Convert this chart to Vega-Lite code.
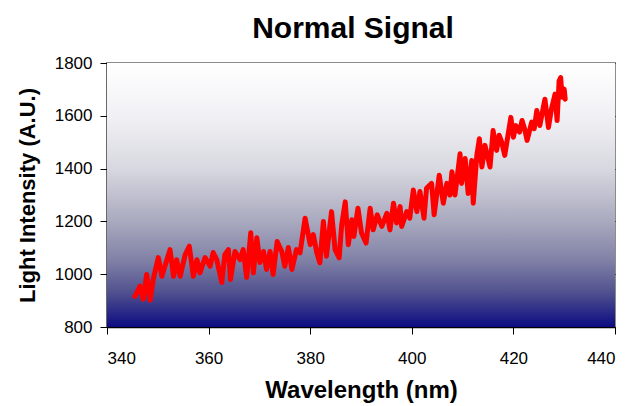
{
  "$schema": "https://vega.github.io/schema/vega-lite/v6.json",
  "autosize": {"type": "none"},
  "width": 508,
  "height": 264,
  "padding": {"left": 107, "top": 63, "right": 19, "bottom": 79},
  "background": "white",
  "config": {
    "font": "Liberation Sans",
    "view": {"stroke": "#8c8c8c", "strokeWidth": 2}
  },
  "title": {
    "text": "Normal Signal",
    "fontSize": 30,
    "fontWeight": "bold",
    "font": "Liberation Sans",
    "color": "black",
    "anchor": "middle",
    "dx": -8,
    "offset": 10
  },
  "data": {
    "values": [
      {"wavelength": 345.5, "intensity": 916},
      {"wavelength": 346.5, "intensity": 955},
      {"wavelength": 347.15, "intensity": 905},
      {"wavelength": 347.8, "intensity": 999},
      {"wavelength": 348.5, "intensity": 902},
      {"wavelength": 349.1, "intensity": 980},
      {"wavelength": 350.1, "intensity": 1063},
      {"wavelength": 350.8, "intensity": 992},
      {"wavelength": 351.4, "intensity": 1030},
      {"wavelength": 352.4, "intensity": 1093},
      {"wavelength": 353.1, "intensity": 992},
      {"wavelength": 353.7, "intensity": 1055},
      {"wavelength": 354.4, "intensity": 992},
      {"wavelength": 355.4, "intensity": 1074},
      {"wavelength": 356.2, "intensity": 1106},
      {"wavelength": 357.0, "intensity": 992},
      {"wavelength": 357.7, "intensity": 1055},
      {"wavelength": 358.3, "intensity": 1005},
      {"wavelength": 359.3, "intensity": 1063},
      {"wavelength": 360.3, "intensity": 1030},
      {"wavelength": 360.9, "intensity": 1082},
      {"wavelength": 361.6, "intensity": 1055},
      {"wavelength": 362.6, "intensity": 969},
      {"wavelength": 363.2, "intensity": 1074},
      {"wavelength": 363.9, "intensity": 1093},
      {"wavelength": 364.3, "intensity": 980},
      {"wavelength": 365.2, "intensity": 1086},
      {"wavelength": 366.2, "intensity": 1055},
      {"wavelength": 366.8, "intensity": 1093},
      {"wavelength": 367.5, "intensity": 988},
      {"wavelength": 368.3, "intensity": 1157},
      {"wavelength": 368.8, "intensity": 1005},
      {"wavelength": 369.5, "intensity": 1138},
      {"wavelength": 370.1, "intensity": 1044},
      {"wavelength": 370.8, "intensity": 1086},
      {"wavelength": 371.4, "intensity": 1018},
      {"wavelength": 372.1, "intensity": 1086},
      {"wavelength": 372.7, "intensity": 999},
      {"wavelength": 373.5, "intensity": 1124},
      {"wavelength": 374.4, "intensity": 1086},
      {"wavelength": 375.0, "intensity": 1030},
      {"wavelength": 375.7, "intensity": 1101},
      {"wavelength": 376.4, "intensity": 1018},
      {"wavelength": 377.3, "intensity": 1093},
      {"wavelength": 378.0, "intensity": 1081},
      {"wavelength": 379.0, "intensity": 1212},
      {"wavelength": 380.0, "intensity": 1112},
      {"wavelength": 380.6, "intensity": 1150},
      {"wavelength": 381.3, "intensity": 1081},
      {"wavelength": 381.9, "intensity": 1043},
      {"wavelength": 382.6, "intensity": 1200},
      {"wavelength": 383.2, "intensity": 1068},
      {"wavelength": 384.2, "intensity": 1237},
      {"wavelength": 384.9, "intensity": 1093},
      {"wavelength": 385.7, "intensity": 1062},
      {"wavelength": 386.2, "intensity": 1187},
      {"wavelength": 386.9, "intensity": 1274},
      {"wavelength": 387.5, "intensity": 1112},
      {"wavelength": 388.2, "intensity": 1206},
      {"wavelength": 388.6, "intensity": 1143},
      {"wavelength": 389.4, "intensity": 1250},
      {"wavelength": 390.1, "intensity": 1156},
      {"wavelength": 391.0, "intensity": 1118},
      {"wavelength": 391.8, "intensity": 1250},
      {"wavelength": 392.4, "intensity": 1168},
      {"wavelength": 393.2, "intensity": 1225},
      {"wavelength": 394.1, "intensity": 1181},
      {"wavelength": 395.1, "intensity": 1231},
      {"wavelength": 395.7, "intensity": 1168},
      {"wavelength": 396.4, "intensity": 1269},
      {"wavelength": 397.0, "intensity": 1194},
      {"wavelength": 397.7, "intensity": 1256},
      {"wavelength": 398.0, "intensity": 1181},
      {"wavelength": 399.0, "intensity": 1237},
      {"wavelength": 399.6, "intensity": 1212},
      {"wavelength": 400.3, "intensity": 1319},
      {"wavelength": 401.0, "intensity": 1237},
      {"wavelength": 401.6, "intensity": 1313},
      {"wavelength": 402.4, "intensity": 1212},
      {"wavelength": 402.9, "intensity": 1325},
      {"wavelength": 403.9, "intensity": 1344},
      {"wavelength": 404.4, "intensity": 1225},
      {"wavelength": 405.4, "intensity": 1375},
      {"wavelength": 406.2, "intensity": 1269},
      {"wavelength": 406.9, "intensity": 1344},
      {"wavelength": 407.5, "intensity": 1300},
      {"wavelength": 407.9, "intensity": 1388},
      {"wavelength": 408.5, "intensity": 1300},
      {"wavelength": 409.5, "intensity": 1456},
      {"wavelength": 409.8, "intensity": 1344},
      {"wavelength": 410.5, "intensity": 1438},
      {"wavelength": 411.1, "intensity": 1306},
      {"wavelength": 411.8, "intensity": 1431},
      {"wavelength": 412.1, "intensity": 1269},
      {"wavelength": 412.8, "intensity": 1450},
      {"wavelength": 413.3, "intensity": 1513},
      {"wavelength": 413.8, "intensity": 1406},
      {"wavelength": 414.4, "intensity": 1488},
      {"wavelength": 415.1, "intensity": 1431},
      {"wavelength": 415.4, "intensity": 1406},
      {"wavelength": 416.0, "intensity": 1544},
      {"wavelength": 416.7, "intensity": 1469},
      {"wavelength": 417.2, "intensity": 1526},
      {"wavelength": 417.7, "intensity": 1500},
      {"wavelength": 418.3, "intensity": 1450},
      {"wavelength": 419.5, "intensity": 1594},
      {"wavelength": 420.0, "intensity": 1519},
      {"wavelength": 420.5, "intensity": 1563},
      {"wavelength": 421.2, "intensity": 1538},
      {"wavelength": 421.7, "intensity": 1582},
      {"wavelength": 422.2, "intensity": 1551},
      {"wavelength": 422.7, "intensity": 1507},
      {"wavelength": 423.6, "intensity": 1576},
      {"wavelength": 424.1, "intensity": 1551},
      {"wavelength": 424.6, "intensity": 1620},
      {"wavelength": 425.2, "intensity": 1563},
      {"wavelength": 426.2, "intensity": 1663},
      {"wavelength": 426.9, "intensity": 1556},
      {"wavelength": 427.5, "intensity": 1626},
      {"wavelength": 428.2, "intensity": 1682},
      {"wavelength": 428.6, "intensity": 1582},
      {"wavelength": 429.0, "intensity": 1732},
      {"wavelength": 429.3, "intensity": 1745},
      {"wavelength": 429.6, "intensity": 1670},
      {"wavelength": 430.0, "intensity": 1701},
      {"wavelength": 430.2, "intensity": 1663}
    ]
  },
  "layer": [
    {
      "data": {"values": [{}]},
      "mark": {
        "type": "rect",
        "color": {
          "gradient": "linear",
          "x1": 0, "y1": 0, "x2": 0, "y2": 1,
          "stops": [
            {"offset": 0, "color": "#ffffff"},
            {"offset": 0.2, "color": "#f1f1f5"},
            {"offset": 0.4, "color": "#d8d8e0"},
            {"offset": 0.6, "color": "#a9a9bf"},
            {"offset": 0.75, "color": "#8080a6"},
            {"offset": 0.87, "color": "#50508f"},
            {"offset": 1, "color": "#0c0c82"}
          ]
        }
      },
      "encoding": {
        "x": {"datum": 340, "type": "quantitative", "scale": {"domain": [340, 440], "nice": false}},
        "x2": {"datum": 440},
        "y": {"datum": 800, "type": "quantitative", "scale": {"domain": [800, 1800], "nice": false}},
        "y2": {"datum": 1800}
      }
    },
    {
      "mark": {"type": "line", "color": "#ff0000", "strokeWidth": 5, "strokeJoin": "round", "strokeCap": "round"},
      "encoding": {
        "x": {
          "field": "wavelength",
          "type": "quantitative",
          "scale": {"domain": [340, 440], "nice": false},
          "axis": {
            "title": "Wavelength (nm)",
            "values": [340, 360, 380, 400, 420, 440],
            "format": "d",
            "grid": false,
            "domainColor": "black",
            "domainWidth": 1.5,
            "tickColor": "black",
            "tickSize": 7,
            "labelFontSize": 17,
            "labelColor": "black",
            "labelPadding": 16,
            "titleFontSize": 24,
            "titleFontWeight": "bold",
            "titleColor": "black",
            "titlePadding": 12
          }
        },
        "y": {
          "field": "intensity",
          "type": "quantitative",
          "scale": {"domain": [800, 1800], "nice": false},
          "axis": {
            "title": "Light Intensity (A.U.)",
            "values": [800, 1000, 1200, 1400, 1600, 1800],
            "format": "d",
            "grid": true,
            "gridColor": "black",
            "gridWidth": 1,
            "gridOpacity": 1,
            "domainColor": "black",
            "domainWidth": 1.5,
            "tickColor": "black",
            "tickSize": 7,
            "labelFontSize": 17,
            "labelColor": "black",
            "labelPadding": 8,
            "titleFontSize": 22,
            "titleFontWeight": "bold",
            "titleColor": "black",
            "titlePadding": 15
          }
        }
      }
    }
  ]
}
